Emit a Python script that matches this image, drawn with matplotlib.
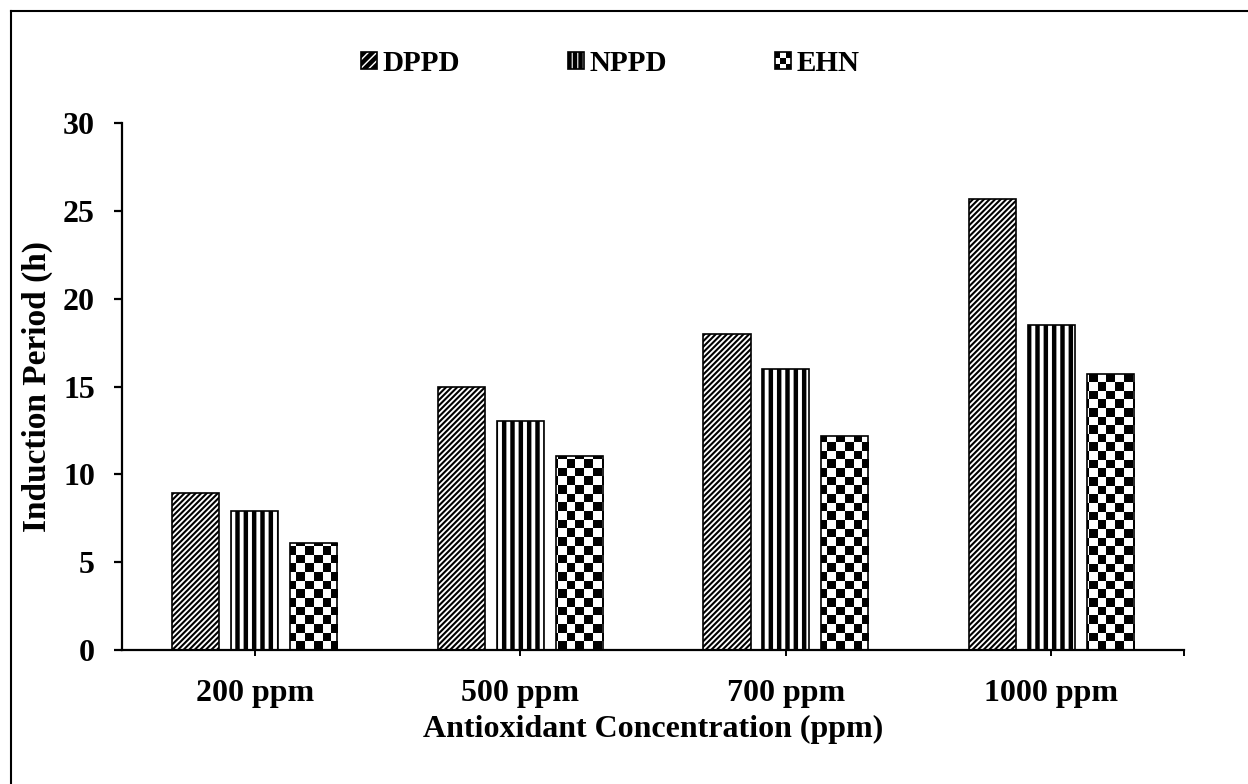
import matplotlib.pyplot as plt
import numpy as np
from matplotlib.lines import Line2D
from matplotlib.patches import Rectangle
from matplotlib.legend_handler import HandlerBase

categories = ["200 ppm", "500 ppm", "700 ppm", "1000 ppm"]
dppd = [8.95, 15.0, 18.0, 25.7]
nppd = [7.9, 13.05, 16.0, 18.5]
ehn = [6.07, 11.05, 12.2, 15.7]

plt.rcParams["font.family"] = ["Liberation Serif", "DejaVu Serif"]
plt.rcParams["font.weight"] = "bold"


class CheckerHandler(HandlerBase):
    def create_artists(self, legend, orig_handle, xdescent, ydescent,
                       width, height, fontsize, trans):
        x0, y0 = -xdescent, -ydescent
        arts = [Rectangle((x0, y0), width, height, facecolor="white",
                          edgecolor="black", lw=1.2, transform=trans)]
        n = 3
        cw, ch = width / n, height / n
        for i in range(n):
            for j in range(n):
                if (i + j) % 2 == 0:
                    arts.append(Rectangle((x0 + i * cw, y0 + j * ch), cw, ch,
                                          facecolor="black", lw=0,
                                          transform=trans))
        return arts


fig = plt.figure(figsize=(12.48, 7.84), dpi=100)
ax = fig.add_axes([0.0978, 0.1709, 0.851, 0.6722])

x = np.arange(len(categories))
w = 0.178
step = 0.222


def hatched_bars(pos, vals, hatch, hlw):
    plt.rcParams["hatch.linewidth"] = hlw
    bars = ax.bar(pos, vals, w, facecolor="white", edgecolor="black",
                  linewidth=1.2, hatch=hatch)
    for b in bars:
        if hasattr(b, "set_hatch_linewidth"):
            b.set_hatch_linewidth(hlw)
    return bars


b1 = hatched_bars(x - step, dppd, "//////", 1.5)
b2 = hatched_bars(x, nppd, "||", 3.2)

# checkerboard fill for EHN
b3 = ax.bar(x + step, ehn, w, facecolor="white", edgecolor="black",
            linewidth=1.2, zorder=3)
board = (np.indices((61, 122)).sum(axis=0) % 2).astype(float)
for b in b3:
    im = ax.imshow(board, cmap="gray", extent=(0, 1, 0, 1),
                   transform=ax.transAxes, aspect="auto",
                   interpolation="nearest", zorder=2)
    im.set_clip_path(b)
    b.set_facecolor("none")

ax.set_xlim(-0.5, 3.5)
ax.set_ylim(0, 30)
ax.set_yticks(range(0, 31, 5))
ax.set_xticks(x)
ax.set_xticklabels(categories)
ax.set_xticks([3.5], minor=True)
for s in ["top", "right"]:
    ax.spines[s].set_visible(False)
for s in ["left", "bottom"]:
    ax.spines[s].set_linewidth(1.6)
ax.tick_params(axis="y", length=6, width=1.6, labelsize=23, pad=13.5)
ax.tick_params(axis="x", which="both", length=4, width=1.4, labelsize=23,
               pad=17)
ax.set_xlabel("Antioxidant Concentration (ppm)", fontsize=23,
              fontweight="bold", labelpad=5)
ax.set_ylabel("Induction Period (h)", fontsize=24, fontweight="bold",
              labelpad=7)

h1 = Rectangle((0, 0), 1, 1, facecolor="white", edgecolor="black",
               hatch="////", lw=1.2)
h2 = Rectangle((0, 0), 1, 1, facecolor="white", edgecolor="black",
               hatch="|||", lw=1.2)
h3 = Rectangle((0, 0), 1, 1)
fig.legend([h1, h2, h3], ["DPPD", "NPPD", "EHN"], loc="center",
           bbox_to_anchor=(0.489, 0.919), ncol=3, frameon=False,
           fontsize=21, handlelength=0.55, handleheight=0.55,
           handletextpad=0.2, columnspacing=3.7,
           handler_map={h3: CheckerHandler()})

# figure border (top and left)
fig.add_artist(Line2D([0.009, 1.0], [0.986, 0.986], color="black", lw=1.5,
                      transform=fig.transFigure))
fig.add_artist(Line2D([0.009, 0.009], [0.0, 0.986], color="black", lw=1.5,
                      transform=fig.transFigure))

fig.savefig("out.png", dpi=100)
